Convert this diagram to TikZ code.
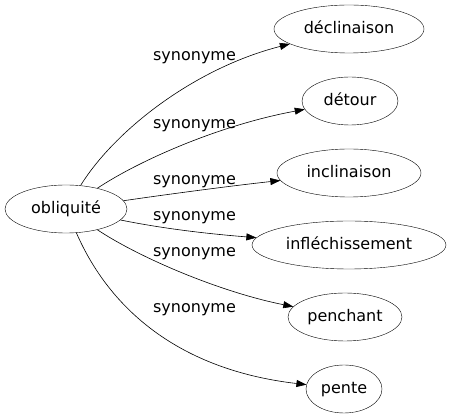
\documentclass[tikz,border=0pt]{standalone}
\usepackage{fontspec}
\setmainfont{DejaVu Sans}
\usetikzlibrary{shapes.geometric,arrows.meta}
\begin{document}
\begin{tikzpicture}[x=1pt,y=-1pt,
  term/.style={draw,ellipse,inner sep=0pt,minimum height=48pt,text height=11pt,text depth=1pt,font=\fontsize{16}{19}\selectfont},
  rel/.style={anchor=base,inner sep=0pt,font=\fontsize{16}{19}\selectfont},
  edge/.style={-{Triangle[length=10pt,width=7pt]},line width=0.6pt}]
\useasboundingbox (0,0) rectangle (451,419);
\node[term,minimum width=122pt] (ob) at (66,209) {obliquité};
\node[term,minimum width=150pt] (t1) at (349,29) {déclinaison};
\node[term,minimum width=96pt] (t2) at (350,101) {détour};
\node[term,minimum width=144pt] (t3) at (349,173) {inclinaison};
\node[term,minimum width=194pt] (t4) at (349,245) {infléchissement};
\node[term,minimum width=114pt] (t5) at (345,317) {penchant};
\node[term,minimum width=76pt] (t6) at (344,389) {pente};
\node[rel] (l1) at (194.5,61) {synonyme};
\node[rel] (l2) at (194.5,129) {synonyme};
\node[rel] (l3) at (194.5,185) {synonyme};
\node[rel] (l4) at (194.5,221) {synonyme};
\node[rel] (l5) at (194.5,257) {synonyme};
\node[rel] (l6) at (194.5,313) {synonyme};
\draw[edge] (ob) .. controls (115,130) and (195,68) .. (t1);
\draw[edge] (ob) .. controls (140,160) and (220,125) .. (t2);
\draw[edge] (ob) .. controls (170,194) and (230,186) .. (t3);
\draw[edge] (ob) .. controls (165,229) and (210,234) .. (t4);
\draw[edge] (ob) .. controls (140,258) and (220,292) .. (t5);
\draw[edge] (ob) .. controls (110,310) and (180,370) .. (t6);
\end{tikzpicture}
\end{document}
